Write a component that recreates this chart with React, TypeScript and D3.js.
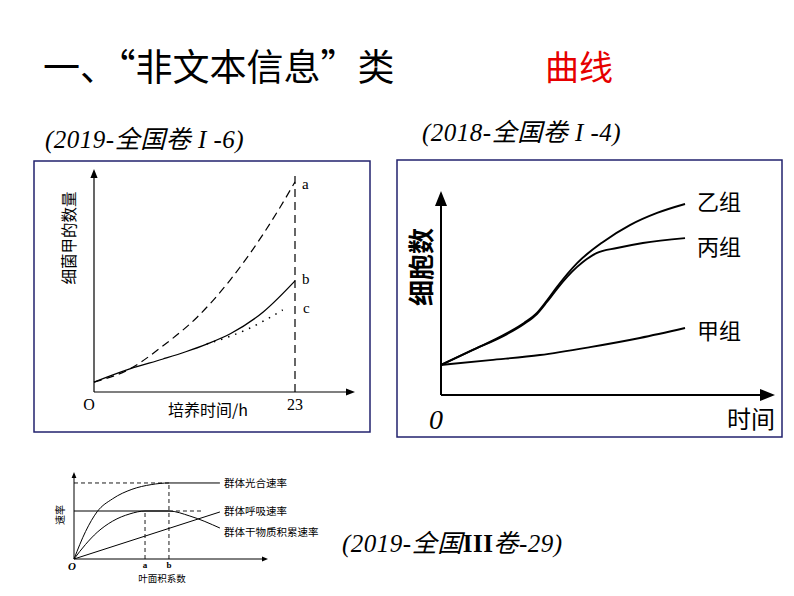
import React from "react";
import * as d3 from "d3";

// ---------- Chart 1 (2019 全国卷I-6) ----------
const c1CurveA: [number, number][] = [[0, 4.5], [4.1, 10.5], [7.9, 21], [11.8, 34], [15.6, 51], [19.4, 72], [21.3, 84], [23, 95.5]];
const c1CurveB: [number, number][] = [[0, 4.5], [4.1, 10.5], [7.9, 15.0], [10.5, 18.3], [12.9, 21.8], [15.6, 26.5], [19.4, 36.5], [23, 50.5]];
const c1CurveC: [number, number][] = [[12.9, 21.8], [17.8, 29], [21.6, 37.3]];
const c1EndX = 23;

// ---------- Chart 2 (2018 全国卷I-4) ----------
const c2Yi: [number, number][] = [[0, 14.8], [9.6, 22.2], [19.9, 30.5], [25, 35.5], [28.9, 40.4], [31.9, 46.5], [34.9, 53.2], [41, 65], [48.8, 75.4], [56.9, 83.7], [65.1, 89.7], [73.5, 94.1]];
const c2Bing: [number, number][] = [[0, 14.8], [9.6, 22.2], [19.9, 30.0], [25, 35], [28.9, 39.9], [31.9, 45.8], [34.9, 52.2], [41, 63.1], [47, 70], [53, 72.4], [60.8, 74.9], [73.5, 77.3]];
const c2Jia: [number, number][] = [[0, 14.8], [14.8, 17.2], [29.8, 19.7], [44.9, 23.6], [59.9, 28.1], [73.5, 33]];
const c2Labels = ["乙组", "丙组", "甲组"];

// ---------- Chart 3 (2019 全国III卷-29) ----------
const c3Photo: [number, number][] = [[0, 0], [6, 32], [12, 55], [20, 70], [30, 81], [40, 86.5], [49.2, 88.4], [75.6, 88.4]];
const c3Dry: [number, number][] = [[0, 0], [6, 17], [12, 31], [20, 44], [29, 52.5], [36.8, 55.8], [49.2, 55.8], [60, 50], [75.6, 36]];
const c3Resp: [number, number][] = [[0, 0], [75.6, 54.7]];
const c3A = 36.8;
const c3B = 49.2;
const c3RespLabels = ["群体光合速率", "群体呼吸速率", "群体干物质积累速率"];

const BORDER = "#22226e";
const CJK = "'Noto Sans CJK SC', 'Noto Sans', sans-serif";
const SERIF = "'Liberation Serif', 'DejaVu Serif', serif";

function Arrow({ x, y, dir, size }: { x: number; y: number; dir: "up" | "right"; size: number }) {
  const w = size * 0.4;
  const pts = dir === "up"
    ? `${x},${y} ${x - w},${y + size} ${x + w},${y + size}`
    : `${x},${y} ${x - size},${y - w} ${x - size},${y + w}`;
  return <polygon points={pts} fill="#000" />;
}

export default function App() {
  // chart 1 scales
  const x1 = d3.scaleLinear().domain([0, 23]).range([94, 295]);
  const y1 = d3.scaleLinear().domain([0, 100]).range([392, 172]);
  const line1 = d3.line<[number, number]>().x(d => x1(d[0])).y(d => y1(d[1])).curve(d3.curveMonotoneX);

  // chart 2 scales
  const x2 = d3.scaleLinear().domain([0, 100]).range([441, 773]);
  const y2 = d3.scaleLinear().domain([0, 100]).range([395, 192]);
  const line2 = d3.line<[number, number]>().x(d => x2(d[0])).y(d => y2(d[1])).curve(d3.curveMonotoneX);

  // chart 3 scales
  const x3 = d3.scaleLinear().domain([0, 100]).range([74, 267]);
  const y3 = d3.scaleLinear().domain([0, 100]).range([559, 473]);
  const line3 = d3.line<[number, number]>().x(d => x3(d[0])).y(d => y3(d[1])).curve(d3.curveMonotoneX);
  const line3s = d3.line<[number, number]>().x(d => x3(d[0])).y(d => y3(d[1]));

  const c2Ends = [c2Yi, c2Bing, c2Jia].map(s => s[s.length - 1]);
  const c3Ends = [c3Photo[c3Photo.length - 1], c3Resp[c3Resp.length - 1], c3Dry[c3Dry.length - 1]];
  const c3LabelDy = [0, -1, 4];
  const c2LabelDy = [-2, 9, 3];

  const titleStyle = { letterSpacing: "0.5px" } as React.CSSProperties;

  return (
    <svg width={794} height={596} viewBox="0 0 794 596" style={{ position: "absolute", left: 0, top: 0, background: "#fff" }}>
      <rect x={0} y={0} width={794} height={596} fill="#fff" />
      {/* Title */}
      <text x={43} y={81} fontFamily={CJK} fontSize={37} fill="#000">一、“非文本信息”类</text>
      <text x={545} y={80} fontFamily={CJK} fontSize={34} fill="#e60000">曲线</text>

      {/* ---------- Chart 1 ---------- */}
      <text x={45} y={148} fontFamily={SERIF} fontStyle="italic" fontSize={25} fill="#000" style={titleStyle}>
        (2019-<tspan fontFamily={CJK}>全国卷</tspan> I -6)
      </text>
      <rect x={34} y={161} width={336} height={271} fill="none" stroke={BORDER} strokeWidth={1.5} />
      <line x1={x1(0)} y1={y1(0)} x2={x1(0)} y2={176} stroke="#000" strokeWidth={1.2} />
      <Arrow x={x1(0)} y={169} dir="up" size={9} />
      <line x1={x1(0)} y1={y1(0)} x2={348} y2={y1(0)} stroke="#000" strokeWidth={1.2} />
      <Arrow x={355} y={y1(0)} dir="right" size={9} />
      <line x1={x1(c1EndX)} y1={y1(0)} x2={x1(c1EndX)} y2={y1(99.5)} stroke="#000" strokeWidth={1.2} strokeDasharray="8,5" />
      <path d={line1(c1CurveA) ?? ""} fill="none" stroke="#000" strokeWidth={1.2} strokeDasharray="8,5" />
      <path d={line1(c1CurveB) ?? ""} fill="none" stroke="#000" strokeWidth={1.3} />
      <path d={line1(c1CurveC) ?? ""} fill="none" stroke="#000" strokeWidth={1.5} strokeDasharray="1.5,6" />
      <text x={302} y={189} fontFamily={SERIF} fontSize={15} fill="#000">a</text>
      <text x={302} y={284} fontFamily={SERIF} fontSize={15} fill="#000">b</text>
      <text x={303} y={313} fontFamily={SERIF} fontSize={15} fill="#000">c</text>
      <text x={89} y={410} textAnchor="middle" fontFamily={SERIF} fontSize={16} fill="#000">O</text>
      <text x={x1(c1EndX)} y={410} textAnchor="middle" fontFamily={SERIF} fontSize={16} fill="#000">23</text>
      <text x={208} y={416} textAnchor="middle" fontFamily={CJK} fontSize={16} fill="#000">培养时间/h</text>
      <text transform="translate(75,238) rotate(-90)" textAnchor="middle" fontFamily={CJK} fontSize={15.5} fill="#000">细菌甲的数量</text>

      {/* ---------- Chart 2 ---------- */}
      <text x={422} y={141} fontFamily={SERIF} fontStyle="italic" fontSize={25} fill="#000" style={titleStyle}>
        (2018-<tspan fontFamily={CJK}>全国卷</tspan> I -4)
      </text>
      <rect x={397} y={160} width={385} height={277} fill="none" stroke={BORDER} strokeWidth={1.5} />
      <line x1={x2(0)} y1={y2(0)} x2={x2(0)} y2={205} stroke="#000" strokeWidth={2} />
      <Arrow x={x2(0)} y={191} dir="up" size={15} />
      <line x1={x2(0)} y1={y2(0)} x2={762} y2={y2(0)} stroke="#000" strokeWidth={2} />
      <Arrow x={775} y={y2(0)} dir="right" size={15} />
      {[c2Yi, c2Bing, c2Jia].map((s, i) => (
        <path key={i} d={line2(s) ?? ""} fill="none" stroke="#000" strokeWidth={1.9} />
      ))}
      {c2Labels.map((l, i) => (
        <text key={l} x={x2(c2Ends[i][0]) + 12} y={y2(c2Ends[i][1]) + c2LabelDy[i] + 8} fontFamily={CJK} fontSize={22} fill="#000">{l}</text>
      ))}
      <text x={436} y={429} textAnchor="middle" fontFamily={SERIF} fontStyle="italic" fontSize={28} fill="#000">0</text>
      <text x={751} y={428} textAnchor="middle" fontFamily={CJK} fontSize={24} fill="#000">时间</text>
      <text transform="translate(431,267) rotate(-90)" textAnchor="middle" fontFamily={CJK} fontSize={26} fontWeight="bold" fill="#000">细胞数</text>

      {/* ---------- Chart 3 ---------- */}
      <line x1={x3(0)} y1={y3(0)} x2={x3(0)} y2={477} stroke="#000" strokeWidth={1} />
      <Arrow x={x3(0)} y={472} dir="up" size={6} />
      <line x1={x3(0)} y1={y3(0)} x2={262} y2={y3(0)} stroke="#000" strokeWidth={1} />
      <Arrow x={268} y={y3(0)} dir="right" size={6} />
      <line x1={x3(0)} y1={y3(88.4)} x2={x3(c3B)} y2={y3(88.4)} stroke="#000" strokeWidth={0.9} strokeDasharray="4,3" />
      <line x1={x3(c3B)} y1={y3(0)} x2={x3(c3B)} y2={y3(88.4)} stroke="#000" strokeWidth={0.9} strokeDasharray="4,3" />
      <line x1={x3(c3A)} y1={y3(0)} x2={x3(c3A)} y2={y3(55.8)} stroke="#000" strokeWidth={0.9} strokeDasharray="4,3" />
      <line x1={x3(0)} y1={y3(55.8)} x2={x3(c3B)} y2={y3(55.8)} stroke="#000" strokeWidth={1} />
      <line x1={x3(c3B)} y1={y3(55.8)} x2={x3(66.3)} y2={y3(55.8)} stroke="#000" strokeWidth={0.9} strokeDasharray="4,3" />
      <path d={line3(c3Photo) ?? ""} fill="none" stroke="#000" strokeWidth={1} />
      <path d={line3(c3Dry) ?? ""} fill="none" stroke="#000" strokeWidth={1} />
      <path d={line3s(c3Resp) ?? ""} fill="none" stroke="#000" strokeWidth={1} />
      {c3RespLabels.map((l, i) => (
        <text key={l} x={x3(c3Ends[i][0]) + 4} y={y3(c3Ends[i][1]) + c3LabelDy[i] + 4} fontFamily={CJK} fontSize={10.5} fill="#000">{l}</text>
      ))}
      <text x={72} y={570} textAnchor="middle" fontFamily={SERIF} fontStyle="italic" fontWeight="bold" fontSize={11} fill="#000">O</text>
      <text x={x3(c3A)} y={568} textAnchor="middle" fontFamily={SERIF} fontWeight="bold" fontSize={9} fill="#000">a</text>
      <text x={x3(c3B)} y={568} textAnchor="middle" fontFamily={SERIF} fontWeight="bold" fontSize={9} fill="#000">b</text>
      <text x={162} y={582} textAnchor="middle" fontFamily={CJK} fontSize={9.5} fill="#000">叶面积系数</text>
      <text transform="translate(64,515) rotate(-90)" textAnchor="middle" fontFamily={CJK} fontSize={10} fill="#000">速率</text>
      <text x={342} y={552} fontFamily={SERIF} fontStyle="italic" fontSize={25} fill="#000" style={titleStyle}>
        (2019-<tspan fontFamily={CJK}>全国</tspan><tspan fontWeight="bold" fontStyle="normal">III</tspan><tspan fontFamily={CJK}>卷</tspan>-29)
      </text>
    </svg>
  );
}
